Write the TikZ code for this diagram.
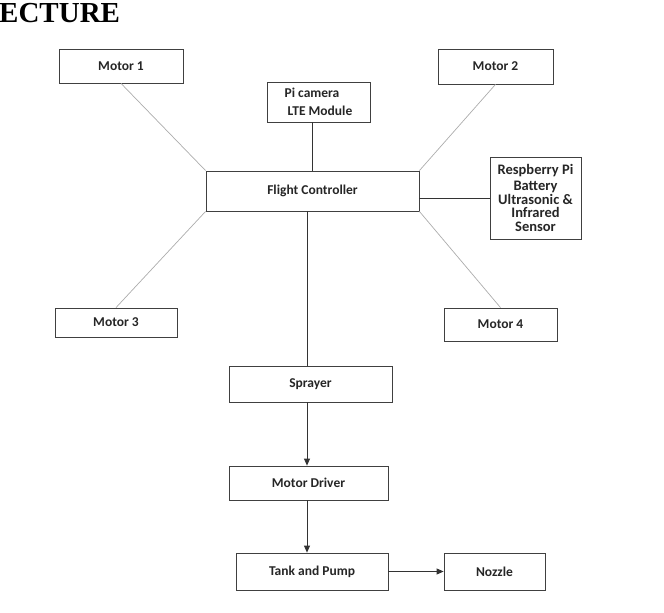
\documentclass[tikz,border=0pt]{standalone}
\usepackage{fontspec}
\setmainfont{Liberation Serif}
\setsansfont{Carlito}
\usepackage{tikz}
\usetikzlibrary{arrows.meta, positioning, calc}

\tikzset{
  blockbox/.style={draw=black!75, line width=0.8pt, fill=white, inner sep=0pt,
    font=\sffamily\bfseries\fontsize{13.5}{15}\selectfont, text=black!85},
  armline/.style={gray!65, line width=0.7pt},
  wire/.style={black!80, line width=0.8pt},
  flow/.style={wire, -{Triangle[length=7pt,width=6pt]}}
}

\begin{document}
\begin{tikzpicture}[x=1pt, y=-1pt]
    \useasboundingbox (0,0) rectangle (664,613);

    % Heading (cut at the left edge)
    \node[font=\bfseries\fontsize{29}{31}\selectfont, anchor=base west, inner sep=0pt] (head) at (-1,23) {ECTURE};

    % Central controller and its add-ons
    \node[blockbox, minimum width=213, minimum height=40] (fc) at (312.5,191) {Flight Controller};
    \node[blockbox, minimum width=103, minimum height=40, align=left,
          font=\sffamily\bfseries\fontsize{13.5}{18}\selectfont] (pi) at (318.5,102) {Pi camera\\\hspace{3pt}LTE Module};
    \node[blockbox, minimum width=91, minimum height=82, align=center,
          font=\sffamily\bfseries\fontsize{14.5}{13.5}\selectfont] (rpi) at (535.5,198)
          {Respberry Pi\\[2.5pt]Battery\\Ultrasonic \&\\Infrared\\Sensor};

    % Motors: name/x/y/width/height/label
    \foreach \nm/\x/\y/\w/\h/\lbl in {m1/121/66/124/34/Motor 1, m2/495.5/66.5/115/35/Motor 2,
                                       m3/116/322.5/122/29/Motor 3, m4/500.5/324.5/113/33/Motor 4} {
      \node[blockbox, minimum width=\w, minimum height=\h] (\nm) at (\x,\y) {\lbl};
    }

    % Spray chain
    \node[blockbox, minimum width=163, minimum height=36] (spr) at (310.5,384) {Sprayer};
    \node[blockbox, minimum width=159, minimum height=34] (drv) at (308.5,483) {Motor Driver};
    \node[blockbox, minimum width=152, minimum height=37] (tank) at (312,571.5) {Tank and Pump};
    \node[blockbox, minimum width=101, minimum height=37] (noz) at (494.5,571.5) {Nozzle};

    % Arms to the motors
    \draw[armline] (m1.south) -- (fc.north west);
    \draw[armline] (m2.south) -- (fc.north east);
    \draw[armline] (m3.north) -- (fc.south west);
    \draw[armline] (m4.north) -- (fc.south east);

    % Links
    \coordinate (spine) at (307,0);
    \draw[wire] (pi.south -| fc.north) -- (fc.north);
    \draw[wire] (fc.east |- rpi.west) -- (rpi.west);
    \draw[wire] (fc.south -| spine) -- (spr.north -| spine);
    \draw[flow] (spr.south -| spine) -- (drv.north -| spine);
    \draw[flow] (drv.south -| spine) -- (tank.north -| spine);
    \draw[flow] (tank.east |- noz.west) -- (noz.west);
\end{tikzpicture}
\end{document}
